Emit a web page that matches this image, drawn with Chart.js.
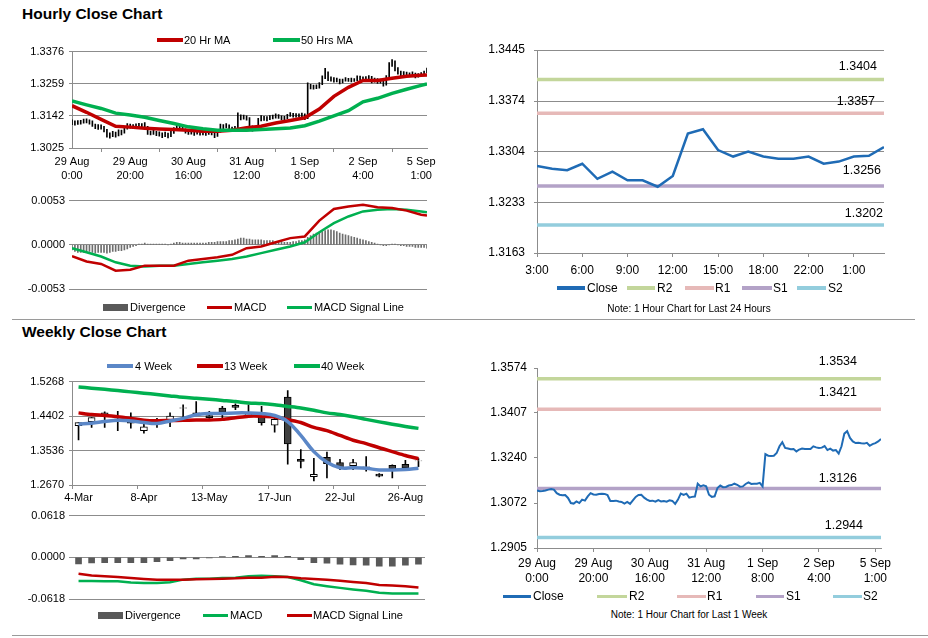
<!DOCTYPE html>
<html>
<head>
<meta charset="utf-8">
<title>Hourly and Weekly Close Charts</title>
<script src="https://cdn.jsdelivr.net/npm/chart.js@4.4.1/dist/chart.umd.min.js"></script>
<style>
  html, body { margin: 0; padding: 0; background: #fff; }
  body { position: relative; width: 928px; height: 638px; overflow: hidden;
         font-family: "Liberation Sans", Arial, sans-serif; color: #000; }
  canvas { position: absolute; }
  .title { position: absolute; left: 22px; font-weight: bold; font-size: 15.5px; line-height: 18px; }
  .sep { position: absolute; height: 1px; background: #9a9a9a; }
  .sw { position: absolute; }
  .lt, .note { position: absolute; line-height: 1; white-space: nowrap; transform: translateY(-50%); }
  .note { font-size: 10px; transform: translate(-50%, -50%); }
</style>
</head>
<body>
<div class="title" style="top:5px">Hourly Close Chart</div>
<div class="title" style="top:323px">Weekly Close Chart</div>
<div class="sep" style="left:12px; width:903px; top:319px"></div>
<div class="sep" style="left:12px; width:916px; top:635px"></div>

<canvas id="hourCandle" width="460" height="150" style="left:0; top:40px"></canvas>
<canvas id="hourMacd" width="460" height="110" style="left:0; top:190px"></canvas>
<canvas id="dayLine" width="468" height="290" style="left:460px; top:30px"></canvas>
<canvas id="weekLine" width="468" height="260" style="left:460px; top:340px"></canvas>
<canvas id="weekCandle" width="460" height="135" style="left:0; top:370px"></canvas>
<canvas id="weekMacd" width="460" height="110" style="left:0; top:505px"></canvas>

<div class="note" style="left:689px; top:309px">Note: 1 Hour Chart for Last 24 Hours</div>
<div class="note" style="left:689px; top:615px">Note: 1 Hour Chart for Last 1 Week</div>

<script>
// ---------- hourly data, 29 Aug 0:00 to 5 Sep 2:00 (one point per hour) ----------
const hourTickIdx = [0, 20, 40, 60, 80, 100, 120];
const hourTickLabels = [['29 Aug', '0:00'], ['29 Aug', '20:00'], ['30 Aug', '16:00'], ['31 Aug', '12:00'],
                        ['1 Sep', '8:00'], ['2 Sep', '4:00'], ['5 Sep', '1:00']];

const hourClose = [
  1.3119, 1.3116, 1.3117, 1.3119, 1.3122, 1.3124, 1.3122, 1.3109, 1.3103, 1.3101,
  1.3102, 1.3091, 1.3072, 1.3070, 1.3078, 1.3072, 1.3085, 1.3081, 1.3097, 1.3109,
  1.3104, 1.3103, 1.3106, 1.3107, 1.3106, 1.3102, 1.3080, 1.3080, 1.3081, 1.3078,
  1.3076, 1.3070, 1.3076, 1.3069, 1.3082, 1.3095, 1.3102, 1.3103, 1.3092, 1.3085,
  1.3080, 1.3081, 1.3077, 1.3083, 1.3078, 1.3080, 1.3077, 1.3082, 1.3080, 1.3069,
  1.3085, 1.3107, 1.3102, 1.3107, 1.3092, 1.3095, 1.3096, 1.3144, 1.3134, 1.3138,
  1.3134, 1.3103, 1.3095, 1.3097, 1.3128, 1.3137, 1.3131, 1.3132, 1.3137, 1.3139,
  1.3144, 1.3140, 1.3133, 1.3134, 1.3143, 1.3149, 1.3143, 1.3144, 1.3144, 1.3147,
  1.3134, 1.3254, 1.3248, 1.3247, 1.3248, 1.3258, 1.3283, 1.3298, 1.3277, 1.3275,
  1.3272, 1.3273, 1.3264, 1.3271, 1.3275, 1.3273, 1.3273, 1.3273, 1.3283, 1.3279,
  1.3277, 1.3278, 1.3284, 1.3269, 1.3274, 1.3267, 1.3269, 1.3256, 1.3283, 1.3330,
  1.3339, 1.3314, 1.3301, 1.3295, 1.3296, 1.3294, 1.3293, 1.3296, 1.3285, 1.3291,
  1.3295, 1.3301, 1.3310
];
const hourHigh = [
  1.3128, 1.3124, 1.3125, 1.3126, 1.3130, 1.3131, 1.3128, 1.3124, 1.3112, 1.3110,
  1.3109, 1.3104, 1.3093, 1.3080, 1.3086, 1.3083, 1.3091, 1.3090, 1.3102, 1.3114,
  1.3112, 1.3110, 1.3113, 1.3115, 1.3114, 1.3118, 1.3104, 1.3087, 1.3089, 1.3086,
  1.3084, 1.3080, 1.3083, 1.3079, 1.3087, 1.3099, 1.3108, 1.3110, 1.3106, 1.3095,
  1.3089, 1.3088, 1.3085, 1.3088, 1.3086, 1.3087, 1.3084, 1.3087, 1.3088, 1.3082,
  1.3090, 1.3112, 1.3110, 1.3114, 1.3109, 1.3101, 1.3104, 1.3153, 1.3146, 1.3145,
  1.3142, 1.3136, 1.3106, 1.3104, 1.3133, 1.3143, 1.3140, 1.3139, 1.3143, 1.3145,
  1.3149, 1.3147, 1.3142, 1.3140, 1.3148, 1.3154, 1.3151, 1.3150, 1.3149, 1.3152,
  1.3149, 1.3262, 1.3257, 1.3254, 1.3255, 1.3263, 1.3288, 1.3315, 1.3302, 1.3284,
  1.3281, 1.3280, 1.3276, 1.3276, 1.3281, 1.3279, 1.3280, 1.3278, 1.3288, 1.3287,
  1.3284, 1.3285, 1.3289, 1.3286, 1.3280, 1.3278, 1.3276, 1.3272, 1.3289, 1.3336,
  1.3347, 1.3342, 1.3318, 1.3305, 1.3303, 1.3301, 1.3299, 1.3302, 1.3298, 1.3296,
  1.3300, 1.3305, 1.3316
];
const hourLow = [
  1.3110, 1.3108, 1.3111, 1.3112, 1.3115, 1.3116, 1.3112, 1.3104, 1.3095, 1.3093,
  1.3094, 1.3084, 1.3064, 1.3061, 1.3066, 1.3064, 1.3069, 1.3073, 1.3079, 1.3094,
  1.3097, 1.3095, 1.3098, 1.3099, 1.3097, 1.3095, 1.3074, 1.3073, 1.3074, 1.3070,
  1.3068, 1.3063, 1.3066, 1.3062, 1.3066, 1.3078, 1.3092, 1.3096, 1.3088, 1.3079,
  1.3074, 1.3075, 1.3071, 1.3075, 1.3072, 1.3073, 1.3071, 1.3074, 1.3073, 1.3063,
  1.3067, 1.3083, 1.3095, 1.3098, 1.3086, 1.3088, 1.3089, 1.3094, 1.3127, 1.3130,
  1.3126, 1.3096, 1.3086, 1.3089, 1.3095, 1.3124, 1.3125, 1.3124, 1.3128, 1.3131,
  1.3134, 1.3133, 1.3127, 1.3127, 1.3132, 1.3140, 1.3137, 1.3137, 1.3138, 1.3139,
  1.3128, 1.3132, 1.3240, 1.3239, 1.3241, 1.3243, 1.3256, 1.3277, 1.3270, 1.3268,
  1.3265, 1.3266, 1.3258, 1.3262, 1.3268, 1.3267, 1.3266, 1.3267, 1.3270, 1.3272,
  1.3270, 1.3271, 1.3274, 1.3262, 1.3265, 1.3260, 1.3261, 1.3250, 1.3254, 1.3280,
  1.3322, 1.3306, 1.3294, 1.3288, 1.3289, 1.3287, 1.3286, 1.3288, 1.3280, 1.3283,
  1.3287, 1.3292, 1.3298
];

// moving averages and MACD, read every 5 hours
const hourMaIdx = [0, 5, 10, 15, 20, 25, 30, 35, 40, 45, 50, 55, 60, 65, 70, 75, 80, 85, 90, 95, 100, 105, 110, 115, 120, 122];
const hourMa20 = [1.3179, 1.3155, 1.3129, 1.3104, 1.3101, 1.3097, 1.3094, 1.3092, 1.3090, 1.3086, 1.3086, 1.3090, 1.3099,
                  1.3104, 1.3116, 1.3125, 1.3135, 1.3167, 1.3213, 1.3246, 1.3271, 1.3271, 1.3279, 1.3286, 1.3290, 1.3291];
const hourMa50 = [1.3196, 1.3182, 1.3169, 1.3152, 1.3145, 1.3137, 1.3125, 1.3114, 1.3102, 1.3095, 1.3090, 1.3090, 1.3090,
                  1.3092, 1.3095, 1.3098, 1.3106, 1.3123, 1.3142, 1.3161, 1.3193, 1.3206, 1.3224, 1.3239, 1.3253, 1.3258];
const hourMacd = [-0.00135, -0.0020, -0.0023, -0.0031, -0.0030, -0.0025, -0.0025, -0.0025, -0.0019, -0.0017, -0.0015, -0.0012, -0.0004,
                  -0.0002, 0.0003, 0.0008, 0.0010, 0.0029, 0.0043, 0.0046, 0.0048, 0.0045, 0.0044, 0.0041, 0.0036, 0.0035];
const hourSignal = [-0.0004, -0.0009, -0.0014, -0.0021, -0.0025, -0.0026, -0.0025, -0.0025, -0.0023, -0.0021, -0.0019, -0.0017, -0.0014,
                    -0.0010, -0.0006, -0.0002, 0.0003, 0.0015, 0.0026, 0.0034, 0.0040, 0.0042, 0.0043, 0.0042, 0.0040, 0.0039];
const hourDivergence = [
  -0.0006, -0.0008, -0.0009, -0.0009, -0.0009, -0.0009, -0.0008, -0.0009, -0.0010, -0.0009,
  -0.0009, -0.0009, -0.0010, -0.0009, -0.0008, -0.0008, -0.0007, -0.0007, -0.0006, -0.0005,
  -0.0003, -0.0002, -0.0001, 0.0001, 0.0001, 0.0002, 0.0001, 0.0001, 0.0001, 0.0001,
  0.0001, 0.0001, 0.0001, 0.0000, 0.0001, 0.0002, 0.0003, 0.0003, 0.0002, 0.0002,
  0.0002, 0.0002, 0.0002, 0.0002, 0.0002, 0.0002, 0.0002, 0.0003, 0.0003, 0.0003,
  0.0004, 0.0004, 0.0004, 0.0004, 0.0005, 0.0005, 0.0006, 0.0007, 0.0008, 0.0008,
  0.0007, 0.0007, 0.0006, 0.0006, 0.0006, 0.0006, 0.0005, 0.0005, 0.0005, 0.0005,
  0.0004, 0.0004, 0.0004, 0.0003, 0.0003, 0.0003, 0.0004, 0.0004, 0.0005, 0.0005,
  0.0006, 0.0009, 0.0011, 0.0013, 0.0014, 0.0015, 0.0016, 0.0017, 0.0018, 0.0018,
  0.0017, 0.0016, 0.0014, 0.0013, 0.0012, 0.0011, 0.0010, 0.0009, 0.0008, 0.0007,
  0.0006, 0.0005, 0.0004, 0.0003, 0.0002, 0.0001, 0.0000, -0.0001, -0.0001, 0.0000,
  0.0001, 0.0001, 0.0000, -0.0001, -0.0001, -0.0002, -0.0002, -0.0002, -0.0003, -0.0003,
  -0.0003, -0.0003, -0.0004
];
const hourYTicks = [1.3025, 1.3142, 1.3259, 1.3376];
const hourMacdTicks = [-0.0053, 0, 0.0053];

// ---------- last 24 hours ----------
const dayTickIdx = [0, 3, 6, 9, 12, 15, 18, 21];
const dayTickLabels = ['3:00', '6:00', '9:00', '12:00', '15:00', '18:00', '22:00', '1:00'];
const dayClose = [1.3284, 1.3280, 1.3278, 1.3287, 1.3266, 1.3276, 1.3264, 1.3264, 1.3255, 1.3270, 1.3329, 1.3335,
                  1.3306, 1.3297, 1.3304, 1.3297, 1.3294, 1.3294, 1.3297, 1.3287, 1.3290, 1.3297, 1.3298, 1.3310];
const dayYTicks = [1.3163, 1.3233, 1.3304, 1.3374, 1.3445];
const dayLevels = [1.3404, 1.3357, 1.3256, 1.3202];

// ---------- last week (pivot levels) ----------
const weekYTicks = [1.2905, 1.3072, 1.3240, 1.3407, 1.3574];
const weekLevels = [1.3534, 1.3421, 1.3126, 1.2944];
const levelNames = ['R2', 'R1', 'S1', 'S2'];

// ---------- weekly candles, 4 Mar to 2 Sep ----------
const weekLabels = ['4-Mar', '11-Mar', '18-Mar', '25-Mar', '1-Apr', '8-Apr', '15-Apr', '22-Apr', '29-Apr', '6-May',
                    '13-May', '20-May', '27-May', '3-Jun', '10-Jun', '17-Jun', '24-Jun', '1-Jul', '8-Jul', '15-Jul',
                    '22-Jul', '29-Jul', '5-Aug', '12-Aug', '19-Aug', '26-Aug', '2-Sep'];
const weekOpen = [1.4158, 1.4263, 1.4482, 1.4357, 1.4344, 1.4037, 1.4235, 1.4296, 1.4600, 1.4482, 1.4417, 1.4604, 1.4669, 1.4417,
                  1.4402, 1.4174, 1.4879, 1.3316, 1.2878, 1.3365, 1.3236, 1.3154, 1.3118, 1.2944, 1.3162, 1.3187, 1.3272];
const weekHigh = [1.4239, 1.4361, 1.4507, 1.4523, 1.4482, 1.4319, 1.4344, 1.4482, 1.4685, 1.4767, 1.4523, 1.4645, 1.4710, 1.4685,
                  1.4645, 1.4402, 1.5042, 1.3560, 1.3341, 1.3495, 1.3316, 1.3316, 1.3381, 1.2960, 1.3179, 1.3292, 1.3333];
const weekLow = [1.3804, 1.4117, 1.4117, 1.4037, 1.4101, 1.3971, 1.4117, 1.4134, 1.4361, 1.4410, 1.4340, 1.4319, 1.4564, 1.4410,
                 1.4174, 1.3996, 1.3196, 1.3098, 1.2773, 1.2846, 1.3057, 1.3057, 1.3017, 1.2870, 1.2846, 1.3057, 1.3130];
const weekClose = [1.4239, 1.4361, 1.4441, 1.4365, 1.4222, 1.4134, 1.4243, 1.4402, 1.4608, 1.4426, 1.4361, 1.4499, 1.4621, 1.4458,
                   1.4239, 1.4319, 1.3703, 1.3260, 1.2936, 1.3203, 1.3098, 1.3236, 1.3126, 1.2895, 1.3082, 1.3098, 1.3280];
const ma4 = [1.4198, 1.4222, 1.4263, 1.4296, 1.4280, 1.4239, 1.4215, 1.4280, 1.4344, 1.4434, 1.4466, 1.4466, 1.4482, 1.4482,
             1.4466, 1.4417, 1.4265, 1.3915, 1.3509, 1.3240, 1.3103, 1.3103, 1.3089, 1.3048, 1.3048, 1.3062, 1.3089];
const ma13 = [1.4482, 1.4441, 1.4417, 1.4385, 1.4344, 1.4300, 1.4285, 1.4290, 1.4296, 1.4305, 1.4305, 1.4319, 1.4360, 1.4400,
              1.4400, 1.4380, 1.4310, 1.4239, 1.4117, 1.4037, 1.3915, 1.3794, 1.3711, 1.3606, 1.3509, 1.3412, 1.3331];
const ma40 = [1.5132, 1.5103, 1.5074, 1.5042, 1.5010, 1.4978, 1.4945, 1.4908, 1.4872, 1.4848, 1.4823, 1.4795, 1.4767, 1.4730,
              1.4715, 1.4685, 1.4645, 1.4604, 1.4548, 1.4482, 1.4441, 1.4385, 1.4319, 1.4256, 1.4198, 1.4142, 1.4093];
const weekMacd = [-0.0351, -0.0351, -0.0356, -0.0356, -0.0375, -0.0380, -0.0380, -0.0370, -0.0331, -0.0317, -0.0317, -0.0307, -0.0302,
                  -0.0282, -0.0273, -0.0282, -0.0292, -0.0341, -0.0399, -0.0428, -0.0453, -0.0477, -0.0497, -0.0526, -0.0536, -0.0536, -0.0536];
const weekSignal = [-0.0244, -0.0268, -0.0282, -0.0292, -0.0307, -0.0321, -0.0331, -0.0331, -0.0331, -0.0326, -0.0321, -0.0317, -0.0312,
                    -0.0302, -0.0302, -0.0287, -0.0292, -0.0312, -0.0321, -0.0331, -0.0346, -0.0365, -0.0380, -0.0409, -0.0419, -0.0429, -0.0448];
const weekDivergence = [-0.0097, -0.0083, -0.0078, -0.0078, -0.0078, -0.0078, -0.0063, -0.0049, -0.0024, -0.0024, -0.0010, 0.0010, 0.0015,
                        0.0024, 0.0015, 0.0024, 0.0015, -0.0034, -0.0078, -0.0088, -0.0102, -0.0112, -0.0117, -0.0131, -0.0131, -0.0117, -0.0102];
const weeklyYTicks = [1.2670, 1.3536, 1.4402, 1.5268];
const weekMacdTicks = [-0.0618, 0, 0.0618];

// ---------- colours ----------
const RED = '#c00000';
const GREEN = '#00b050';
const CLOSE_BLUE = '#1f6bb5';
const WEEK4_BLUE = '#5b87c7';
const LEVEL_COLORS = ['#c3d69b', '#e6b9b8', '#b3a2c7', '#93cddd'];
const GRID = '#8c8c8c';

Chart.defaults.font.family = '"Liberation Sans", Arial, sans-serif';
Chart.defaults.font.size = 11;
Chart.defaults.color = '#000';
Chart.defaults.animation = false;
Chart.defaults.responsive = false;
Chart.defaults.devicePixelRatio = 1;
Chart.defaults.plugins.legend.display = false;
Chart.defaults.plugins.tooltip.enabled = false;
Chart.defaults.elements.point.radius = 0;

// helpers for fixed axis sizes and explicit ticks
const setTicks = vals => scale => { scale.ticks = vals.map(v => ({ value: v })); };
const fixWidth = w => scale => { scale.width = w; };
const fixHeight = h => scale => { scale.height = h; };
const xy = (xs, ys) => ys.map((y, i) => ({ x: xs[i], y }));

// writes the pivot value above each level line
const levelLabels = {
  id: 'levelLabels',
  afterDatasetsDraw(chart, args, opts) {
    const { ctx, chartArea, scales } = chart;
    ctx.save();
    ctx.font = '12.5px "Liberation Sans", Arial, sans-serif';
    ctx.fillStyle = '#000';
    ctx.textAlign = 'right';
    ctx.textBaseline = 'middle';
    opts.levels.forEach((lv, i) => {
      const y = scales.y.getPixelForValue(lv);
      ctx.fillText(lv.toFixed(4), chartArea.right - opts.right[i], y - opts.dy[i]);
    });
    ctx.restore();
  }
};

function levelSets(levels, lastX) {
  return levels.map((lv, i) => ({
    label: levelNames[i],
    data: [{ x: 0, y: lv }, { x: lastX, y: lv }],
    borderColor: LEVEL_COLORS[i],
    borderWidth: 3.5,
    order: 2
  }));
}

// html legends
function legend(top, size, items) {
  items.forEach(it => {
    const sw = document.createElement('div');
    sw.className = 'sw';
    sw.style.cssText = `left:${it.x}px;top:${top - it.h / 2}px;width:${it.w}px;height:${it.h}px;background:${it.color}`;
    document.body.appendChild(sw);
    const tx = document.createElement('div');
    tx.className = 'lt';
    tx.textContent = it.label;
    tx.style.cssText = `left:${it.tx}px;top:${top}px;font-size:${size}px`;
    document.body.appendChild(tx);
  });
}

// ---------- hourly candles with moving averages ----------
new Chart(document.getElementById('hourCandle'), {
  type: 'bar',
  data: {
    datasets: [
      { type: 'line', label: '50 Hrs MA', data: xy(hourMaIdx, hourMa50), borderColor: GREEN, borderWidth: 3.5, order: 0 },
      { type: 'line', label: '20 Hr MA', data: xy(hourMaIdx, hourMa20), borderColor: RED, borderWidth: 3.5, order: 1 },
      { label: 'Range', data: hourHigh.map((h, i) => ({ x: i, y: [hourLow[i], h] })),
        backgroundColor: '#000', barThickness: 1, order: 3 }
    ]
  },
  options: {
    layout: { padding: { top: 9, right: 33, left: 0, bottom: 0 } },
    scales: {
      x: {
        type: 'linear', min: 0, max: 122, offset: false,
        afterBuildTicks: setTicks(hourTickIdx), afterFit: fixHeight(42),
        grid: { drawOnChartArea: false, tickLength: 4, color: GRID },
        border: { color: GRID },
        ticks: { callback: v => hourTickLabels[hourTickIdx.indexOf(v)], maxRotation: 0, padding: 3,
                 font: { size: 11, lineHeight: 1.27 } }
      },
      y: {
        min: 1.3025, max: 1.3376,
        afterBuildTicks: setTicks(hourYTicks), afterFit: fixWidth(72),
        grid: { color: GRID, tickLength: 3 },
        border: { color: GRID },
        ticks: { callback: v => v.toFixed(4), padding: 5 }
      }
    }
  }
});

// ---------- hourly MACD ----------
new Chart(document.getElementById('hourMacd'), {
  type: 'bar',
  data: {
    datasets: [
      { type: 'line', label: 'MACD', data: xy(hourMaIdx, hourMacd), borderColor: RED, borderWidth: 2.5, order: 0 },
      { type: 'line', label: 'MACD Signal Line', data: xy(hourMaIdx, hourSignal), borderColor: GREEN, borderWidth: 2.5, order: 1 },
      { label: 'Divergence', data: hourDivergence.map((d, i) => ({ x: i, y: d })),
        backgroundColor: '#6e6e6e', barThickness: 1, order: 3 }
    ]
  },
  options: {
    layout: { padding: { top: 10, right: 33, left: 0, bottom: 11 } },
    scales: {
      x: { type: 'linear', min: 0, max: 122, offset: false, display: false },
      y: {
        min: -0.0053, max: 0.0053,
        afterBuildTicks: setTicks(hourMacdTicks), afterFit: fixWidth(72),
        grid: { color: GRID, tickLength: 3 },
        border: { display: false },
        ticks: { callback: v => v.toFixed(4), padding: 4 }
      }
    }
  }
});

// ---------- last 24 hours ----------
new Chart(document.getElementById('dayLine'), {
  type: 'line',
  data: {
    datasets: [
      { label: 'Close', data: dayClose.map((v, i) => ({ x: i, y: v })), borderColor: CLOSE_BLUE, borderWidth: 2.5, order: 0 },
      ...levelSets(dayLevels, dayClose.length - 1)
    ]
  },
  plugins: [levelLabels],
  options: {
    layout: { padding: { top: 20, right: 44, left: 0, bottom: 42 } },
    plugins: { levelLabels: { levels: dayLevels, right: [7, 9, 3, 1], dy: [13, 12, 16, 11] } },
    scales: {
      x: {
        type: 'linear', min: 0, max: dayClose.length - 1,
        afterBuildTicks: setTicks(dayTickIdx), afterFit: fixHeight(25),
        grid: { drawOnChartArea: false, tickLength: 4, color: GRID },
        border: { color: GRID },
        ticks: { callback: v => dayTickLabels[dayTickIdx.indexOf(v)], maxRotation: 0, padding: 6, font: { size: 12 } }
      },
      y: {
        min: 1.3163, max: 1.3445,
        afterBuildTicks: setTicks(dayYTicks), afterFit: fixWidth(77),
        grid: { color: GRID, tickLength: 3 },
        border: { color: GRID },
        ticks: { callback: v => v.toFixed(4), padding: 9, font: { size: 12 } }
      }
    }
  }
});

// ---------- last week, hourly close ----------
new Chart(document.getElementById('weekLine'), {
  type: 'line',
  data: {
    datasets: [
      { label: 'Close', data: hourClose.map((v, i) => ({ x: i, y: v })), borderColor: CLOSE_BLUE, borderWidth: 2, order: 0 },
      ...levelSets(weekLevels, hourClose.length - 1)
    ]
  },
  plugins: [levelLabels],
  options: {
    layout: { padding: { top: 28, right: 47, left: 0, bottom: 12 } },
    plugins: { levelLabels: { levels: weekLevels, right: [24, 24, 24, 18], dy: [17, 17, 10, 12] } },
    scales: {
      x: {
        type: 'linear', min: 0, max: hourClose.length - 1,
        afterBuildTicks: setTicks(hourTickIdx), afterFit: fixHeight(40),
        grid: { drawOnChartArea: false, tickLength: 4, color: GRID },
        border: { color: GRID },
        ticks: { callback: v => hourTickLabels[hourTickIdx.indexOf(v)], maxRotation: 0, padding: 4,
                 font: { size: 12, lineHeight: 1.25 } }
      },
      y: {
        min: 1.2905, max: 1.3574,
        afterBuildTicks: setTicks(weekYTicks), afterFit: fixWidth(77),
        grid: { drawOnChartArea: false, tickLength: 3, color: GRID },
        border: { color: GRID },
        ticks: { callback: v => v.toFixed(4), padding: 7, font: { size: 12 } }
      }
    }
  }
});

// ---------- weekly candles with moving averages ----------
new Chart(document.getElementById('weekCandle'), {
  type: 'bar',
  data: {
    labels: weekLabels,
    datasets: [
      { type: 'line', label: '4 Week', data: ma4, borderColor: WEEK4_BLUE, borderWidth: 3.5, tension: 0.4, order: 0 },
      { type: 'line', label: '13 Week', data: ma13, borderColor: RED, borderWidth: 3.5, tension: 0.3, order: 1 },
      { type: 'line', label: '40 Week', data: ma40, borderColor: GREEN, borderWidth: 3.5, tension: 0.3, order: 1 },
      { label: 'Body', data: weekOpen.map((o, i) => [o, weekClose[i]]),
        backgroundColor: weekOpen.map((o, i) => weekClose[i] >= o ? '#ffffff' : '#404040'),
        borderColor: '#000', borderWidth: 1, borderSkipped: false, barThickness: 7, grouped: false, order: 2 },
      { label: 'Wick', data: weekLow.map((l, i) => [l, weekHigh[i]]),
        backgroundColor: '#000', barThickness: 1, grouped: false, order: 3 }
    ]
  },
  options: {
    layout: { padding: { top: 8, right: 35, left: 0, bottom: 0 } },
    scales: {
      x: {
        offset: true,
        afterFit: fixHeight(20),
        grid: { offset: true, drawOnChartArea: false, tickLength: 4,
                color: ctx => (ctx.index % 5 === 0 ? GRID : 'rgba(0,0,0,0)') },
        border: { color: GRID },
        ticks: { autoSkip: false, maxRotation: 0, padding: 2,
                 callback: (v, i) => (i % 5 === 0 ? weekLabels[i] : '') }
      },
      y: {
        min: 1.2670, max: 1.5268,
        afterBuildTicks: setTicks(weeklyYTicks), afterFit: fixWidth(72),
        grid: { color: GRID, tickLength: 3 },
        border: { color: GRID },
        ticks: { callback: v => v.toFixed(4), padding: 5 }
      }
    }
  }
});

// ---------- weekly MACD ----------
new Chart(document.getElementById('weekMacd'), {
  type: 'bar',
  data: {
    labels: weekLabels,
    datasets: [
      { type: 'line', label: 'MACD Signal Line', data: weekSignal, borderColor: RED, borderWidth: 2.5, order: 0 },
      { type: 'line', label: 'MACD', data: weekMacd, borderColor: GREEN, borderWidth: 2.5, order: 1 },
      { label: 'Divergence', data: weekDivergence, backgroundColor: '#595959', barThickness: 6, order: 3 }
    ]
  },
  options: {
    layout: { padding: { top: 9, right: 35, left: 0, bottom: 16 } },
    scales: {
      x: { offset: true, display: false },
      y: {
        min: -0.0618, max: 0.0618,
        afterBuildTicks: setTicks(weekMacdTicks), afterFit: fixWidth(72),
        grid: { color: GRID, tickLength: 3 },
        border: { display: false },
        ticks: { callback: v => v.toFixed(4), padding: 4 }
      }
    }
  }
});

// ---------- legends ----------
legend(40, 11, [
  { x: 157, w: 26, h: 4, color: RED, tx: 184, label: '20 Hr MA' },
  { x: 273, w: 27, h: 4, color: GREEN, tx: 301, label: '50 Hrs MA' }
]);
legend(307, 11, [
  { x: 103, w: 25, h: 7, color: '#595959', tx: 130, label: 'Divergence' },
  { x: 207, w: 25, h: 3, color: RED, tx: 234, label: 'MACD' },
  { x: 287, w: 25, h: 3, color: GREEN, tx: 314, label: 'MACD Signal Line' }
]);
legend(288, 12, [
  { x: 557, w: 28, h: 4, color: CLOSE_BLUE, tx: 587, label: 'Close' },
  { x: 627, w: 28, h: 4, color: LEVEL_COLORS[0], tx: 657, label: levelNames[0] },
  { x: 685, w: 29, h: 4, color: LEVEL_COLORS[1], tx: 715, label: levelNames[1] },
  { x: 742, w: 30, h: 4, color: LEVEL_COLORS[2], tx: 773, label: levelNames[2] },
  { x: 797, w: 29, h: 4, color: LEVEL_COLORS[3], tx: 828, label: levelNames[3] }
]);
legend(596, 12, [
  { x: 503, w: 28, h: 3, color: CLOSE_BLUE, tx: 533, label: 'Close' },
  { x: 597, w: 30, h: 3, color: LEVEL_COLORS[0], tx: 629, label: levelNames[0] },
  { x: 677, w: 29, h: 3, color: LEVEL_COLORS[1], tx: 707, label: levelNames[1] },
  { x: 756, w: 28, h: 3, color: LEVEL_COLORS[2], tx: 786, label: levelNames[2] },
  { x: 833, w: 29, h: 3, color: LEVEL_COLORS[3], tx: 863, label: levelNames[3] }
]);
legend(366, 11, [
  { x: 107, w: 26, h: 4, color: WEEK4_BLUE, tx: 135, label: '4 Week' },
  { x: 197, w: 26, h: 4, color: RED, tx: 224, label: '13 Week' },
  { x: 294, w: 26, h: 4, color: GREEN, tx: 321, label: '40 Week' }
]);
legend(615, 11, [
  { x: 98, w: 25, h: 7, color: '#595959', tx: 125, label: 'Divergence' },
  { x: 203, w: 25, h: 3, color: GREEN, tx: 230, label: 'MACD' },
  { x: 287, w: 25, h: 3, color: RED, tx: 313, label: 'MACD Signal Line' }
]);
</script>
</body>
</html>
